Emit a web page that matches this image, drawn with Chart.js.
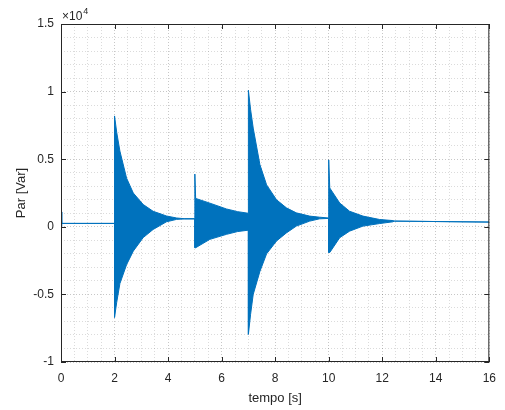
<!DOCTYPE html>
<html lang="pt">
<head>
    <meta charset="UTF-8">
    <title>Par [Var]</title>
    <script src="https://cdn.jsdelivr.net/npm/chart.js"></script>
    <style>
        html, body { margin: 0; padding: 0; background: #fff; }
        #wrap { width: 505px; height: 410px; }
    </style>
</head>
<body>
    <div id="wrap"><canvas id="parChart" width="505" height="410"></canvas></div>

    <script>
        // Envoltoria do sinal, tempo em s, par em Var
        const tempo = [0, 0.03, 2, 2, 2.08, 2.2, 2.45, 2.7, 3.07, 3.44, 3.94, 4.32, 4.6, 5.0, 5.0, 5.03, 5.56, 6.18, 6.6, 7.0, 7.0, 7.08, 7.18, 7.43, 7.68, 8.05, 8.42, 8.79, 9.29, 9.66, 10.0, 10.0, 10.04, 10.41, 10.78, 11.28, 11.9, 12.4, 12.45, 16];
        const parMax = [1100, 250, 250, 8200, 7000, 5600, 3600, 2500, 1650, 1150, 800, 650, 600, 600, 3900, 2100, 1750, 1320, 1120, 1000, 10100, 8700, 7300, 4600, 3100, 2000, 1400, 1030, 790, 710, 650, 4950, 2870, 1760, 1150, 790, 540, 460, 420, 350];
        const parMin = [0, 250, 250, -6700, -5600, -4200, -2800, -1800, -800, -200, 370, 550, 580, 580, -1550, -1550, -930, -560, -350, -250, -7950, -6500, -5000, -3300, -2000, -1050, -450, 50, 420, 590, 620, -1900, -1900, -810, -320, 50, 240, 370, 420, 350];

        // Eixos
        const xTicks = [0, 2, 4, 6, 8, 10, 12, 14, 16];
        const yTicks = [-10000, -5000, 0, 5000, 10000, 15000];

        const azul = 'rgb(0, 114, 189)';
        const cinza = '#262626';
        const fonte = '"Liberation Sans", Arial, sans-serif';

        const boxPlugin = {
            id: 'matlabBox',
            afterDatasetsDraw(chart) {
                const { ctx, chartArea: a, scales } = chart;
                ctx.save();
                ctx.strokeStyle = cinza;
                ctx.lineWidth = 1;
                ctx.strokeRect(a.left + 0.5, a.top + 0.5, a.right - a.left - 1, a.bottom - a.top - 1);
                ctx.beginPath();
                xTicks.forEach(v => {
                    const px = Math.round(scales.x.getPixelForValue(v)) + 0.5;
                    ctx.moveTo(px, a.bottom); ctx.lineTo(px, a.bottom - 5);
                    ctx.moveTo(px, a.top); ctx.lineTo(px, a.top + 5);
                });
                yTicks.forEach(v => {
                    const py = Math.round(scales.y.getPixelForValue(v)) + 0.5;
                    ctx.moveTo(a.left, py); ctx.lineTo(a.left + 5, py);
                    ctx.moveTo(a.right, py); ctx.lineTo(a.right - 5, py);
                });
                ctx.stroke();
                // multiplicador do eixo y
                ctx.fillStyle = cinza;
                ctx.textBaseline = 'alphabetic';
                ctx.font = '12px ' + fonte;
                ctx.fillText('\u00d710', a.left + 1, a.top - 4);
                const w = ctx.measureText('\u00d710').width;
                ctx.font = '9px ' + fonte;
                ctx.fillText('4', a.left + 1 + w + 1, a.top - 10);
                ctx.restore();
            }
        };

        const gridColor = (ctx, majors) => majors.includes(ctx.tick.value) ? 'rgba(0,0,0,0.22)' : 'rgba(0,0,0,0.14)';

        new Chart(document.getElementById('parChart'), {
            type: 'line',
            data: {
                datasets: [
                    {
                        data: tempo.map((t, i) => ({ x: t, y: parMax[i] })),
                        borderColor: azul,
                        backgroundColor: azul,
                        borderWidth: 1,
                        pointRadius: 0,
                        tension: 0,
                        fill: '+1'
                    },
                    {
                        data: tempo.map((t, i) => ({ x: t, y: parMin[i] })),
                        borderColor: azul,
                        backgroundColor: azul,
                        borderWidth: 1,
                        pointRadius: 0,
                        tension: 0,
                        fill: false
                    }
                ]
            },
            options: {
                responsive: false,
                animation: false,
                layout: { padding: { left: 0, right: 15, top: 24, bottom: 0 } },
                plugins: { legend: { display: false }, tooltip: { enabled: false } },
                scales: {
                    x: {
                        type: 'linear',
                        min: 0,
                        max: 16,
                        afterFit(scale) { scale.height = 48; },
                        border: { display: false, dash: [1, 2] },
                        grid: { drawTicks: false, color: ctx => gridColor(ctx, xTicks) },
                        ticks: {
                            stepSize: 0.5,
                            autoSkip: false,
                            maxTicksLimit: 100,
                            maxRotation: 0,
                            padding: 9,
                            color: cinza,
                            font: { family: fonte, size: 12 },
                            callback: v => xTicks.includes(v) ? String(v) : ''
                        },
                        title: {
                            display: true,
                            text: 'tempo [s]',
                            color: cinza,
                            padding: { top: 4, bottom: 4 },
                            font: { family: fonte, size: 13 }
                        }
                    },
                    y: {
                        min: -10000,
                        max: 15000,
                        afterFit(scale) { scale.width = 61; },
                        border: { display: false, dash: [1, 2] },
                        grid: { drawTicks: false, color: ctx => gridColor(ctx, yTicks) },
                        ticks: {
                            stepSize: 1000,
                            autoSkip: false,
                            maxTicksLimit: 100,
                            padding: 7,
                            color: cinza,
                            font: { family: fonte, size: 12 },
                            callback: v => yTicks.includes(v) ? String(v / 10000) : ''
                        },
                        title: {
                            display: true,
                            text: 'Par [Var]',
                            color: cinza,
                            padding: { top: 14, bottom: 0 },
                            font: { family: fonte, size: 13 }
                        }
                    }
                }
            },
            plugins: [boxPlugin]
        });
    </script>
</body>
</html>
